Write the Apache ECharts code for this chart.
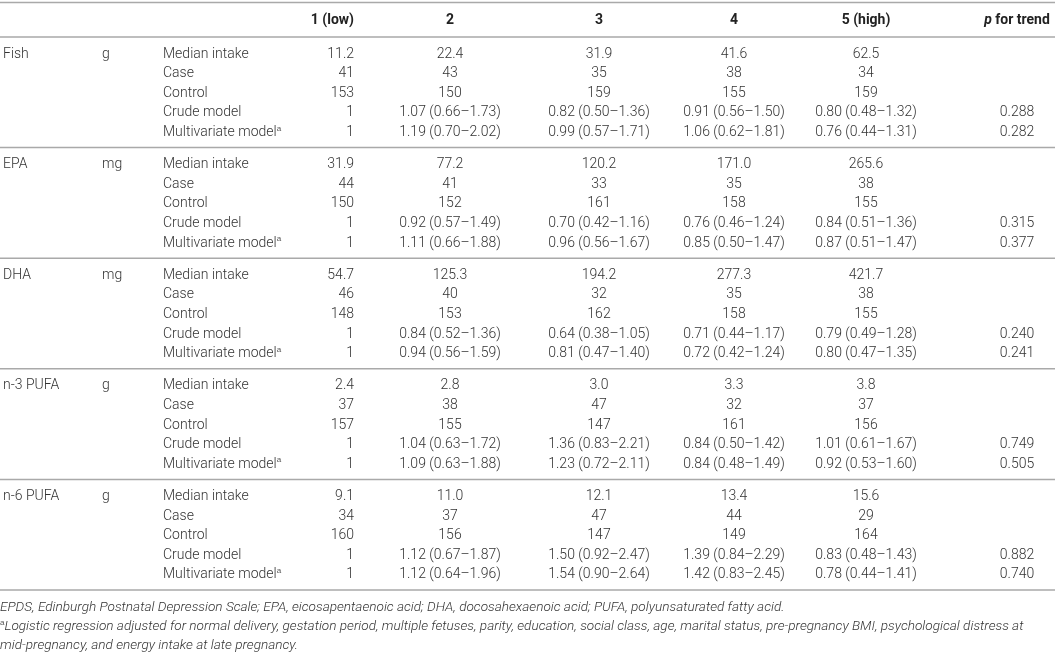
<!DOCTYPE html>
<html>
<head>
<meta charset="utf-8">
<script src="https://cdn.jsdelivr.net/npm/echarts@6/dist/echarts.min.js"></script>
<style>
  html, body { margin: 0; padding: 0; background: #fff; }
  #main { width: 1055px; height: 653px; }
</style>
</head>
<body>
<div id="main"></div>
<script>
// table content
var quintiles = ['1 (low)', '2', '3', '4', '5 (high)'];
var nutrients = ['Fish', 'EPA', 'DHA', 'n-3 PUFA', 'n-6 PUFA'];
var units = ['g', 'mg', 'mg', 'g', 'g'];
var rowLabels = ['Median intake', 'Case', 'Control', 'Crude model', 'Multivariate model'];

var medianIntake = [
  [11.2, 22.4, 31.9, 41.6, 62.5],
  [31.9, 77.2, 120.2, 171.0, 265.6],
  [54.7, 125.3, 194.2, 277.3, 421.7],
  [2.4, 2.8, 3.0, 3.3, 3.8],
  [9.1, 11.0, 12.1, 13.4, 15.6]
];
var caseCounts = [
  [41, 43, 35, 38, 34],
  [44, 41, 33, 35, 38],
  [46, 40, 32, 35, 38],
  [37, 38, 47, 32, 37],
  [34, 37, 47, 44, 29]
];
var controlCounts = [
  [153, 150, 159, 155, 159],
  [150, 152, 161, 158, 155],
  [148, 153, 162, 158, 155],
  [157, 155, 147, 161, 156],
  [160, 156, 147, 149, 164]
];
var crudeOR = [
  ['1', '1.07 (0.66–1.73)', '0.82 (0.50–1.36)', '0.91 (0.56–1.50)', '0.80 (0.48–1.32)'],
  ['1', '0.92 (0.57–1.49)', '0.70 (0.42–1.16)', '0.76 (0.46–1.24)', '0.84 (0.51–1.36)'],
  ['1', '0.84 (0.52–1.36)', '0.64 (0.38–1.05)', '0.71 (0.44–1.17)', '0.79 (0.49–1.28)'],
  ['1', '1.04 (0.63–1.72)', '1.36 (0.83–2.21)', '0.84 (0.50–1.42)', '1.01 (0.61–1.67)'],
  ['1', '1.12 (0.67–1.87)', '1.50 (0.92–2.47)', '1.39 (0.84–2.29)', '0.83 (0.48–1.43)']
];
var multiOR = [
  ['1', '1.19 (0.70–2.02)', '0.99 (0.57–1.71)', '1.06 (0.62–1.81)', '0.76 (0.44–1.31)'],
  ['1', '1.11 (0.66–1.88)', '0.96 (0.56–1.67)', '0.85 (0.50–1.47)', '0.87 (0.51–1.47)'],
  ['1', '0.94 (0.56–1.59)', '0.81 (0.47–1.40)', '0.72 (0.42–1.24)', '0.80 (0.47–1.35)'],
  ['1', '1.09 (0.63–1.88)', '1.23 (0.72–2.11)', '0.84 (0.48–1.49)', '0.92 (0.53–1.60)'],
  ['1', '1.12 (0.64–1.96)', '1.54 (0.90–2.64)', '1.42 (0.83–2.45)', '0.78 (0.44–1.41)']
];
var pTrendCrude = ['0.288', '0.315', '0.240', '0.749', '0.882'];
var pTrendMulti = ['0.282', '0.377', '0.241', '0.505', '0.740'];
var footnotes = [
  'EPDS, Edinburgh Postnatal Depression Scale; EPA, eicosapentaenoic acid; DHA, docosahexaenoic acid; PUFA, polyunsaturated fatty acid.',
  '{sup|a}Logistic regression adjusted for normal delivery, gestation period, multiple fetuses, parity, education, social class, age, marital status, pre-pregnancy BMI, psychological distress at',
  'mid-pregnancy, and energy intake at late pregnancy.'
];

// layout (axis units = pixels)
var colX = [3, 102, 163, 354, 450, 599, 734, 866, 1017];
var colAlign = ['left', 'left', 'left', 'right', 'center', 'center', 'center', 'center', 'center'];
var headerY = 20, topRule = 2.5, headRule = 37, groupH = 110.6, firstRow = 17, rowH = 19.6;
var FONT = 'Roboto, "Helvetica Neue", Arial, sans-serif';

var cells = [];
function cell(col, y, text, kind) {
  cells.push({ x: colX[col], y: y, text: text, align: colAlign[col], kind: kind || 'body' });
}

quintiles.forEach(function (q, i) { cell(3 + i, headerY, q, 'head'); });
cell(8, headerY, '{pi|p} for trend', 'head');

nutrients.forEach(function (n, g) {
  var top = headRule + g * groupH;
  var ys = rowLabels.map(function (_, r) { return top + firstRow + r * rowH; });
  cell(0, ys[0], n);
  cell(1, ys[0], units[g]);
  rowLabels.forEach(function (lab, r) {
    cell(2, ys[r], r === 4 ? lab + '{sup|a}' : lab);
  });
  for (var k = 0; k < 5; k++) {
    cell(3 + k, ys[0], medianIntake[g][k].toFixed(1));
    cell(3 + k, ys[1], String(caseCounts[g][k]));
    cell(3 + k, ys[2], String(controlCounts[g][k]));
    cell(3 + k, ys[3], crudeOR[g][k]);
    cell(3 + k, ys[4], multiOR[g][k]);
  }
  cell(8, ys[3], pTrendCrude[g]);
  cell(8, ys[4], pTrendMulti[g]);
});

var footY = headRule + 5 * groupH + 18;
footnotes.forEach(function (t, i) {
  cells.push({ x: 0, y: footY + i * 18.7, text: t, align: 'left', kind: 'foot' });
});

var rules = [[0, 1055, topRule], [0, 1055, headRule]];
for (var g = 1; g <= 5; g++) rules.push([0, 1055, headRule + g * groupH]);

var styles = {
  head: { fontSize: 14, fontWeight: 'bold', fill: '#222' },
  body: { fontSize: 14, fontWeight: 300, fill: '#333' },
  foot: { fontSize: 13.6, fontWeight: 300, fontStyle: 'italic', fill: '#333' }
};
var rich = {
  sup: { fontSize: 8, verticalAlign: 'top', lineHeight: 16, fill: '#555' },
  pi: { fontSize: 14, fontWeight: 'bold', fontStyle: 'italic', fill: '#222', fontFamily: FONT }
};

var myChart = echarts.init(document.getElementById('main'));
var option = {
  animation: false,
  grid: { left: 0, right: 0, top: 0, bottom: 0 },
  xAxis: { type: 'value', min: 0, max: 1055, show: false },
  yAxis: { type: 'value', min: 0, max: 653, inverse: true, show: false },
  series: [
    {
      type: 'custom',
      silent: true,
      data: rules,
      renderItem: function (params, api) {
        var a = api.coord([api.value(0), api.value(2)]);
        var b = api.coord([api.value(1), api.value(2)]);
        return {
          type: 'line',
          shape: { x1: a[0], y1: a[1], x2: b[0], y2: b[1] },
          style: { stroke: '#a9a9a9', lineWidth: 1.5 }
        };
      }
    },
    {
      type: 'custom',
      silent: true,
      data: cells.map(function (c) { return [c.x, c.y]; }),
      renderItem: function (params, api) {
        var c = cells[params.dataIndex];
        var p = api.coord([api.value(0), api.value(1)]);
        var s = styles[c.kind];
        return {
          type: 'text',
          x: p[0],
          y: p[1],
          style: {
            text: c.text,
            fontFamily: FONT,
            fontSize: s.fontSize,
            fontWeight: s.fontWeight,
            fontStyle: s.fontStyle || 'normal',
            fill: s.fill,
            align: c.align,
            verticalAlign: 'middle',
            lineHeight: 16,
            rich: rich
          }
        };
      }
    }
  ]
};
myChart.setOption(option);
</script>
</body>
</html>
